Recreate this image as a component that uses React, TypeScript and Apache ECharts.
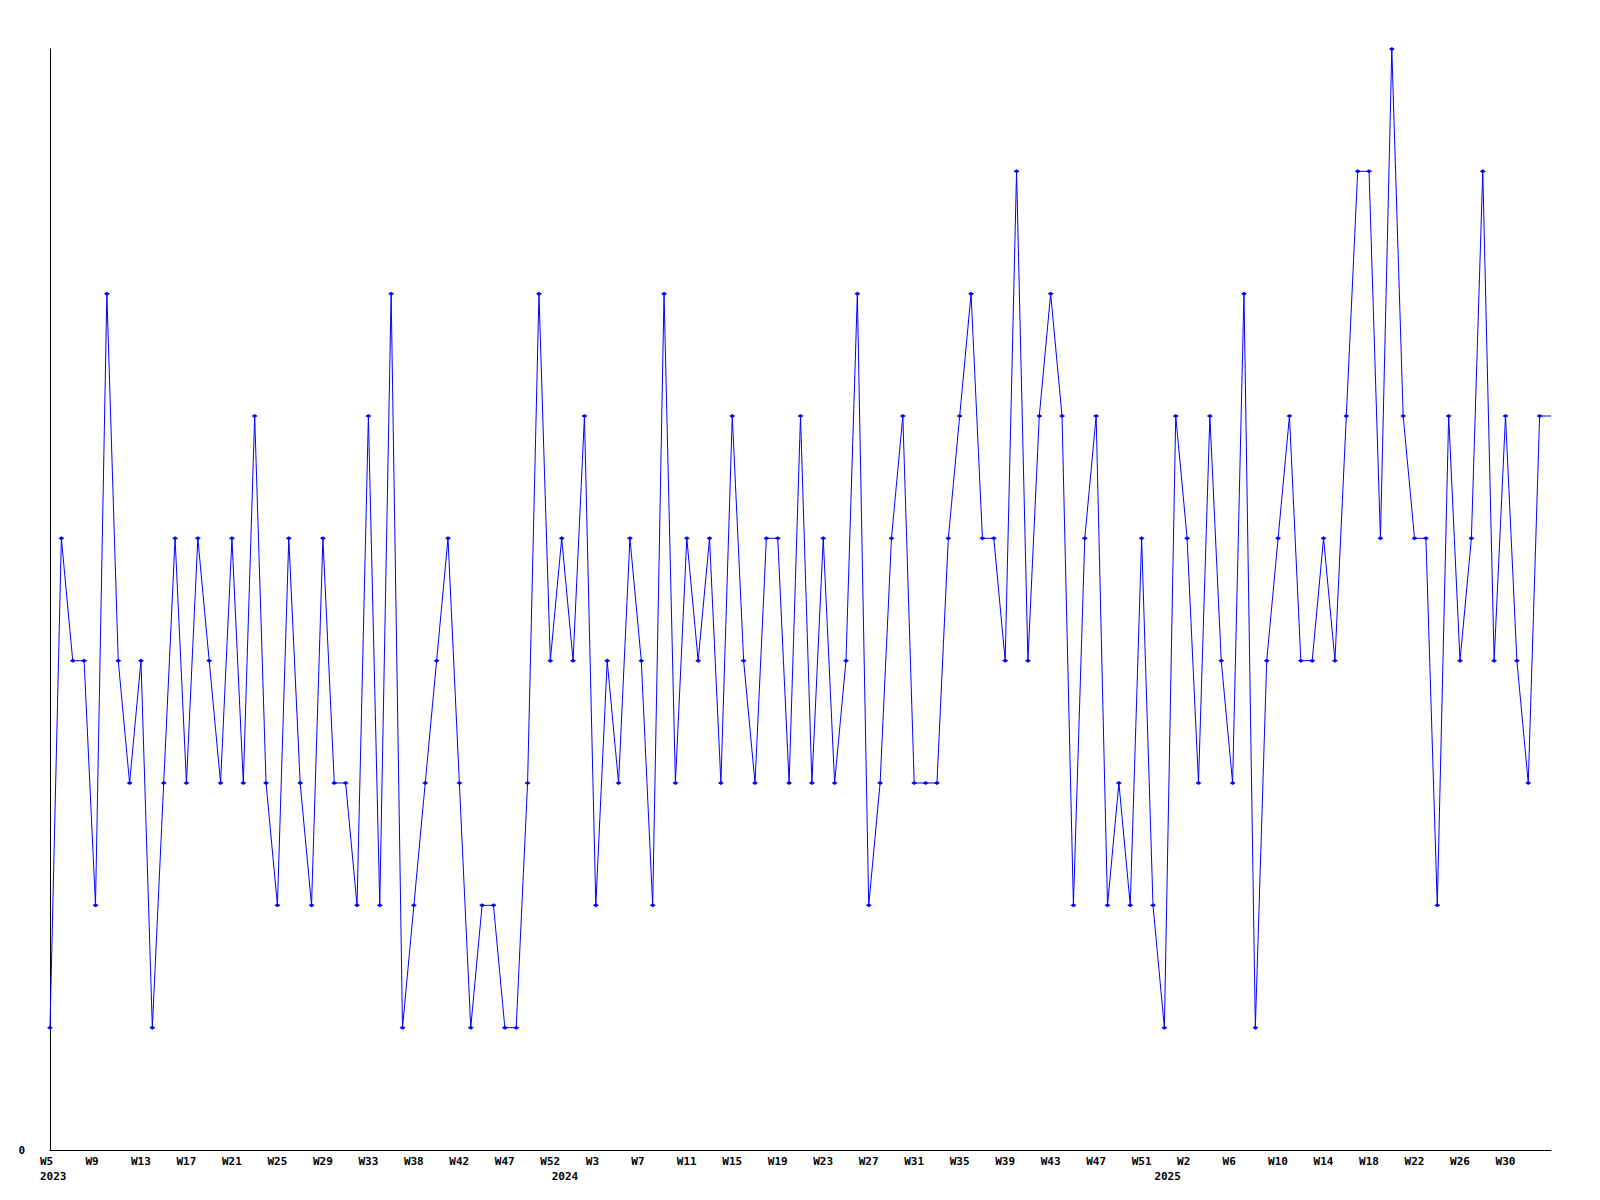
import React, { useEffect, useRef } from "react";
import * as echarts from "echarts";

// Weekly series values (one per week, starting 2023 W5)
const values: number[] = [
  1, 5, 4, 4, 2, 7, 4, 3, 4, 1,
  3, 5, 3, 5, 4, 3, 5, 3, 6, 3,
  2, 5, 3, 2, 5, 3, 3, 2, 6, 2,
  7, 1, 2, 3, 4, 5, 3, 1, 2, 2,
  1, 1, 3, 7, 4, 5, 4, 6, 2, 4,
  3, 5, 4, 2, 7, 3, 5, 4, 5, 3,
  6, 4, 3, 5, 5, 3, 6, 3, 5, 3,
  4, 7, 2, 3, 5, 6, 3, 3, 3, 5,
  6, 7, 5, 5, 4, 8, 4, 6, 7, 6,
  2, 5, 6, 2, 3, 2, 5, 2, 1, 6,
  5, 3, 6, 4, 3, 7, 1, 4, 5, 6,
  4, 4, 5, 4, 6, 8, 8, 5, 9, 6,
  5, 5, 2, 6, 4, 5, 8, 4, 6, 4,
  3, 6, 6,
];

// Tick labels shown every 4th point
const weekTickLabels: string[] = [
  "W5", "W9", "W13", "W17", "W21", "W25", "W29", "W33", "W38", "W42", "W47",
  "W52", "W3", "W7", "W11", "W15", "W19", "W23", "W27", "W31", "W35", "W39",
  "W43", "W47", "W51", "W2", "W6", "W10", "W14", "W18", "W22", "W26", "W30",
];
const tickStep = 4;

// Year labels and the point index where each year starts
const yearLabels: string[] = ["2023", "2024", "2025"];
const yearStartIndex: number[] = [0, 45, 98];

const categories: string[] = values.map((_, i) => String(i));

const FONT = "'DejaVu Sans Mono', monospace";

export default function App() {
  const ref = useRef<HTMLDivElement>(null);

  useEffect(() => {
    if (!ref.current) return;
    const chart = echarts.init(ref.current, undefined, { renderer: "svg" });
    const seriesData = values.map((v, i) =>
      i === values.length - 1 ? { value: v, symbol: "none" } : v
    );
    chart.setOption({
      animation: false,
      backgroundColor: "#ffffff",
      grid: { left: 50, right: 49, top: 49, bottom: 50, containLabel: false },
      xAxis: [
        {
          type: "category",
          data: categories,
          boundaryGap: false,
          axisLine: { show: true, lineStyle: { color: "#000", width: 1 } },
          axisTick: { show: false },
          splitLine: { show: false },
          axisLabel: {
            interval: (i: number) => i % tickStep === 0 && i / tickStep < weekTickLabels.length,
            formatter: (_v: string, i: number) =>
              i % tickStep === 0 ? weekTickLabels[i / tickStep] ?? "" : "",
            color: "#000",
            fontFamily: FONT,
            fontWeight: "bold",
            fontSize: 11,
            margin: 6,
            align: "left",
            padding: [0, 0, 0, -10],
          },
        },
        {
          type: "category",
          data: categories,
          boundaryGap: false,
          position: "bottom",
          offset: 15,
          axisLine: { show: false },
          axisTick: { show: false },
          splitLine: { show: false },
          axisLabel: {
            interval: (i: number) => yearStartIndex.includes(i),
            formatter: (_v: string, i: number) => {
              const k = yearStartIndex.indexOf(i);
              return k >= 0 ? yearLabels[k] : "";
            },
            color: "#000",
            fontFamily: FONT,
            fontWeight: "bold",
            fontSize: 11,
            margin: 6,
            align: "left",
            padding: [0, 0, 0, -10],
          },
        },
      ],
      yAxis: {
        type: "value",
        min: 0,
        max: 9,
        interval: 9,
        axisLine: { show: true, lineStyle: { color: "#000", width: 1 } },
        axisTick: { show: false },
        splitLine: { show: false },
        axisLabel: {
          formatter: (v: number) => (v === 0 ? "0" : ""),
          color: "#000",
          fontFamily: FONT,
          fontWeight: "bold",
          fontSize: 11,
          margin: 25,
        },
      },
      series: [
        {
          type: "line",
          xAxisIndex: 0,
          data: seriesData,
          symbol: "diamond",
          symbolSize: [6, 4],
          showAllSymbol: true,
          lineStyle: { color: "#0000ff", width: 1 },
          itemStyle: { color: "#0000ff" },
          clip: false,
        },
      ],
    });
    return () => chart.dispose();
  }, []);

  return (
    <div
      ref={ref}
      style={{ position: "fixed", left: 0, top: 0, width: 1600, height: 1200, background: "#fff" }}
    />
  );
}
